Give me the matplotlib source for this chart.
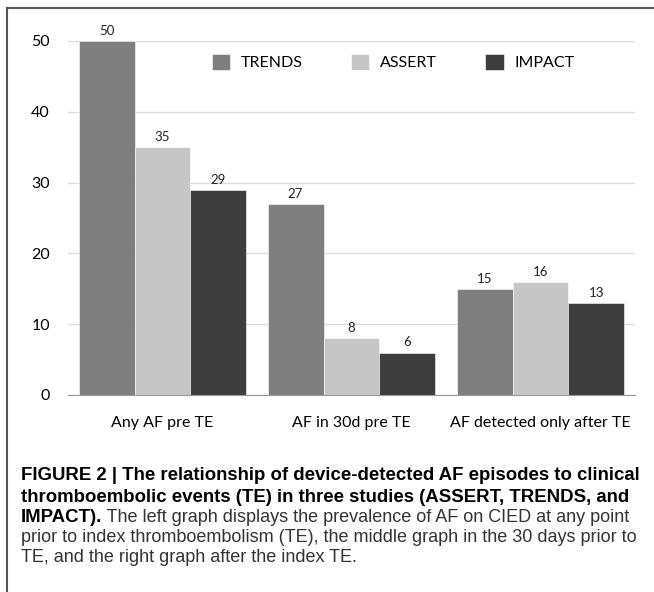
import matplotlib.pyplot as plt
from matplotlib.patches import Rectangle
import numpy as np

categories = ["Any AF pre TE", "AF in 30d pre TE", "AF detected only after TE"]
studies = ["TRENDS", "ASSERT", "IMPACT"]
trends = [50, 27, 15]
assert_vals = [35, 8, 16]
impact = [29, 6, 13]
colors = ["#7f7f7f", "#c6c6c6", "#3d3d3d"]

caption_bold_1 = "FIGURE 2 | The relationship of device-detected AF episodes to clinical"
caption_bold_2 = "thromboembolic events (TE) in three studies (ASSERT, TRENDS, and"
caption_bold_3 = "IMPACT)."
caption_rest_3 = " The left graph displays the prevalence of AF on CIED at any point"
caption_4 = "prior to index thromboembolism (TE), the middle graph in the 30 days prior to"
caption_5 = "TE, and the right graph after the index TE."

W, H = 654, 592
fig = plt.figure(figsize=(W / 100, H / 100), dpi=100)
ax = fig.add_axes([68 / W, 1 - 395 / H, 567 / W, 354 / H])

chart_font = ["Lato", "DejaVu Sans"]
cap_font = ["Liberation Sans", "DejaVu Sans"]

x = np.arange(len(categories))
bw = 0.296
series = [trends, assert_vals, impact]
for i, (name, vals) in enumerate(zip(studies, series)):
    bars = ax.bar(x + (i - 1) * bw, vals, bw, color=colors[i], label=name,
                  edgecolor="white", linewidth=0.4, zorder=3)
    for b, v in zip(bars, vals):
        ax.annotate(str(v), (b.get_x() + b.get_width() / 2, v), xytext=(0, 3),
                    textcoords="offset points", ha="center", va="bottom",
                    fontsize=9.5, family=chart_font, color="#222222", annotation_clip=False)

ax.set_xlim(-0.5, 2.5)
ax.set_ylim(0, 50)
ax.set_yticks([0, 10, 20, 30, 40, 50])
ax.set_xticks(x)
ax.set_xticklabels(categories, family=chart_font, fontsize=11.5)
for lab in ax.get_yticklabels():
    lab.set_family(chart_font)
    lab.set_fontsize(11.5)
ax.tick_params(length=0, pad=13)
ax.tick_params(axis="x", pad=15)
ax.grid(axis="y", color="#dddddd", linewidth=1, zorder=0)
for s in ["top", "right", "left"]:
    ax.spines[s].set_visible(False)
ax.spines["bottom"].set_color("#999999")
ax.spines["bottom"].set_zorder(4)

leg = ax.legend(loc="center left", bbox_to_anchor=(0.228, 0.94), ncol=3, frameon=False,
                handlelength=1.15, handleheight=1.15, handletextpad=0.65, columnspacing=3.05,
                prop={"family": chart_font, "size": 11.5})

# outer frame
fig.patches.append(Rectangle((7 / W, -0.05), 1.1, 1 - 8 / H + 0.05, transform=fig.transFigure,
                             fill=False, edgecolor="#555555", linewidth=1.5))

tx = 21 / W
lines_y = [476, 497, 517, 537, 558]
fs = 13.4
fs_reg = 13.0
fig.text(tx, 1 - lines_y[0] / H, caption_bold_1, fontsize=fs, weight="bold", family=cap_font, va="center")
fig.text(tx, 1 - lines_y[1] / H, caption_bold_2, fontsize=fs, weight="bold", family=cap_font, va="center")
t3 = fig.text(tx, 1 - lines_y[2] / H, caption_bold_3, fontsize=fs, weight="bold", family=cap_font, va="center")
fig.canvas.draw()
bb = t3.get_window_extent()
fig.text(bb.x1 / W, 1 - lines_y[2] / H, caption_rest_3, fontsize=fs_reg, family=cap_font, va="center", color="#333333")
fig.text(tx, 1 - lines_y[3] / H, caption_4, fontsize=fs_reg, family=cap_font, va="center", color="#333333")
fig.text(tx, 1 - lines_y[4] / H, caption_5, fontsize=fs_reg, family=cap_font, va="center", color="#333333")

fig.savefig("out.png", dpi=100)
